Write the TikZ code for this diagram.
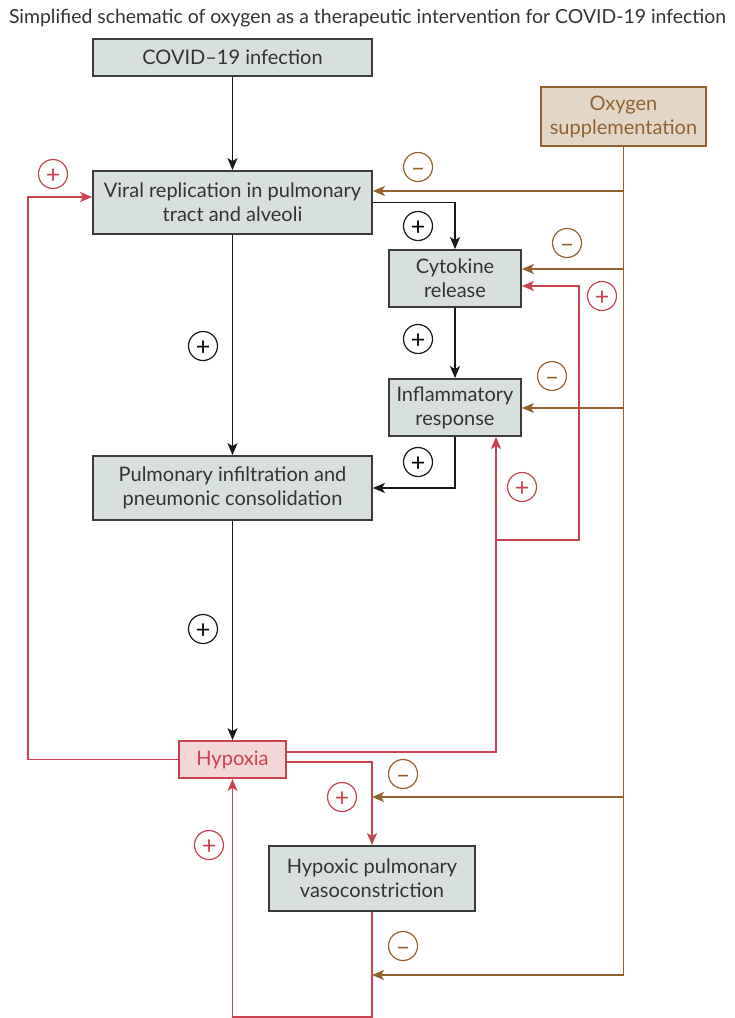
\documentclass[tikz,border=0pt]{standalone}
\usepackage{fontspec}
\setmainfont{Lato}
\usetikzlibrary{arrows.meta}

\definecolor{boxfill}{HTML}{D8E0DD}
\definecolor{boxline}{HTML}{3C3C3C}
\definecolor{txtgray}{HTML}{333333}
\definecolor{otwo}{HTML}{94622F}
\definecolor{otwofill}{HTML}{E2D6C6}
\definecolor{hypred}{HTML}{C9434F}
\definecolor{hypfill}{HTML}{F3D6D6}

\begin{document}
\begin{tikzpicture}[x=1pt, y=-1pt, line width=1.5pt, font=\fontsize{20}{24}\selectfont,
  stagebox/.style={draw=boxline, fill=boxfill, text=txtgray, line width=1.8pt, align=center, inner sep=0pt},
  otwobox/.style={draw=otwo, fill=otwofill, text=otwo, line width=1.8pt, align=center, inner sep=0pt},
  hypbox/.style={draw=hypred, fill=hypfill, text=hypred, line width=1.8pt, align=center, inner sep=0pt},
  sign/.style={circle, draw, line width=1.2pt, minimum size=29pt, inner sep=0pt,
    font=\fontsize{25}{25}\selectfont, text height=19pt, text depth=0pt},
  blkline/.style={draw=black!90, -{Stealth[length=12pt, width=10pt, inset=3pt]}},
  brnline/.style={draw=otwo, -{Stealth[length=12pt, width=10pt, inset=3pt]}},
  redline/.style={draw=hypred, -{Stealth[length=12pt, width=10pt, inset=3pt]}}]
\useasboundingbox (0,0) rectangle (735,1018);
\node[text=txtgray, font=\fontsize{19.4}{24}\selectfont] (title) at (367.5,18) {Simplified schematic of oxygen as a therapeutic intervention for COVID-19 infection};
% the stages
\node[stagebox, minimum width=279pt, minimum height=37pt] (covid) at (232.5,57.5) {COVID–19 infection};
\node[stagebox, minimum width=279pt, minimum height=63pt] (viral) at (232.5,202.5) {Viral replication in pulmonary\\tract and alveoli};
\node[stagebox, minimum width=132pt, minimum height=57pt] (cyto) at (455,278.5) {Cytokine\\release};
\node[stagebox, minimum width=132pt, minimum height=57pt] (inflam) at (455,407.5) {Inflammatory\\response};
\node[stagebox, minimum width=279pt, minimum height=64pt] (infil) at (232.5,488) {Pulmonary infiltration and\\pneumonic consolidation};
\node[hypbox, minimum width=107pt, minimum height=37pt] (hypoxia) at (232.5,759.5) {Hypoxia};
\node[stagebox, minimum width=206pt, minimum height=65pt] (hpv) at (372,878.5) {Hypoxic pulmonary\\vasoconstriction};
\node[otwobox, minimum width=165pt, minimum height=59pt] (oxygen) at (623.5,116.5) {Oxygen\\supplementation};
% the main chain
\draw[blkline] (covid) -- (viral);
\draw[blkline] (viral) -- (infil);
\draw[blkline] (viral.east) -| (cyto.north);
\draw[blkline] (cyto) -- (inflam);
\draw[blkline] (inflam.south) |- (infil.east);
\draw[blkline] (infil) -- (hypoxia);
% oxygen acts on five steps
\coordinate (o1) at (623.5,191);
\coordinate (o2) at (623.5,269);
\coordinate (o3) at (623.5,408);
\coordinate (o4) at (623.5,797);
\coordinate (o5) at (623.5,975);
\draw[otwo] (oxygen.south) -- (o5);
\draw[brnline] (o1) -- (viral.east |- o1);
\draw[brnline] (o2) -- (cyto.east |- o2);
\draw[brnline] (o3) -- (inflam.east |- o3);
\draw[brnline] (o4) -- (hpv.north |- o4);
\draw[brnline] (o5) -- (hpv.south |- o5);
% hypoxia feeds back
\coordinate (h1) at (28,197);
\coordinate (r1) at (496,540);
\coordinate (r2) at (579,540);
\coordinate (r3) at (372,1017);
\draw[redline] (hypoxia.west) -| (h1) -- (viral.west |- h1);
\draw[redline] ([yshift=7.5pt]hypoxia.east) -| ([xshift=41pt]inflam.south);
\draw[redline] (r1) -- (r2) |- ([yshift=-7.5pt]cyto.east);
\draw[redline] ([yshift=-2.5pt]hypoxia.east) -| (hpv.north);
\draw[redline] (hpv.south) -- (r3) -| (hypoxia.south);
% signs
\node[sign, draw=black!90] (s1) at (418,226) {+};
\node[sign, draw=black!90] (s2) at (203,346) {+};
\node[sign, draw=black!90] (s3) at (418,339) {+};
\node[sign, draw=black!90] (s4) at (418,462) {+};
\node[sign, draw=black!90] (s5) at (203,629) {+};
\node[sign, draw=otwo, text=otwo] (m1) at (418,167) {–};
\node[sign, draw=otwo, text=otwo] (m2) at (567,243) {–};
\node[sign, draw=otwo, text=otwo] (m3) at (552,376) {–};
\node[sign, draw=otwo, text=otwo] (m4) at (403,774) {–};
\node[sign, draw=otwo, text=otwo] (m5) at (403,946) {–};
\node[sign, draw=hypred, text=hypred] (p1) at (53,174) {+};
\node[sign, draw=hypred, text=hypred] (p2) at (602,296) {+};
\node[sign, draw=hypred, text=hypred] (p3) at (522,487) {+};
\node[sign, draw=hypred, text=hypred] (p4) at (342,797) {+};
\node[sign, draw=hypred, text=hypred] (p5) at (209,845) {+};
\end{tikzpicture}
\end{document}
